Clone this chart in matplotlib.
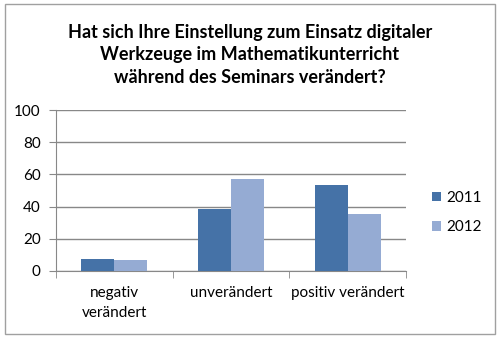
import matplotlib
matplotlib.use('Agg')
import matplotlib.pyplot as plt
from matplotlib.patches import Rectangle
import numpy as np

# Survey answers in percent, per year
categories = ['negativ\nverändert', 'unverändert', 'positiv verändert']
years      = ['2011', '2012']
vals_2011  = [7.3, 38.4, 53.3]
vals_2012  = [6.7, 57.1, 35.5]
yticks     = [0, 20, 40, 60, 80, 100]

TITLE = ('Hat sich Ihre Einstellung zum Einsatz digitaler\n'
         'Werkzeuge im Mathematikunterricht\n'
         'während des Seminars verändert?')

C_2011 = '#4572a7'
C_2012 = '#95abd3'
GRID   = '#888888'

plt.rcParams['font.family'] = ['Lato', 'DejaVu Sans']

fig = plt.figure(figsize=(5.0, 3.37), dpi=100)
fig.patches.append(Rectangle((0.010, 0.009), 0.980, 0.978, transform=fig.transFigure,
                             fill=False, edgecolor='#a0a0a0', lw=1.0))

ax = fig.add_axes([0.112, 0.196, 0.700, 0.477])

x = np.arange(len(categories))
w = 0.283
ax.bar(x - w / 2, vals_2011, w, color=C_2011, label=years[0], zorder=3)
ax.bar(x + w / 2, vals_2012, w, color=C_2012, label=years[1], zorder=3)

ax.set_xlim(-0.5, len(categories) - 0.5)
ax.set_ylim(0, 100)
ax.set_yticks(yticks)
ax.yaxis.grid(True, color=GRID, lw=1.0, zorder=0)
ax.tick_params(axis='y', length=5, color=GRID, labelsize=11, pad=6)

# category labels centred, tick marks between the groups
ax.set_xticks(x)
ax.set_xticklabels(categories, fontsize=11, linespacing=1.5)
ax.tick_params(axis='x', length=0, pad=11)
ax.set_xticks(np.arange(-0.5, len(categories)), minor=True)
ax.tick_params(axis='x', which='minor', length=5, color=GRID)

for s in ('top', 'right'):
    ax.spines[s].set_visible(False)
for s in ('left', 'bottom'):
    ax.spines[s].set_color(GRID)

fig.text(0.5, 0.837, TITLE, ha='center', va='center', fontsize=13,
         fontweight='bold', linespacing=1.4)

ax.legend(loc='center left', bbox_to_anchor=(1.035, 0.364), frameon=False,
          fontsize=11, handlelength=0.6, handleheight=0.6,
          handletextpad=0.35, labelspacing=1.0)

fig.savefig('out.png', dpi=100)
